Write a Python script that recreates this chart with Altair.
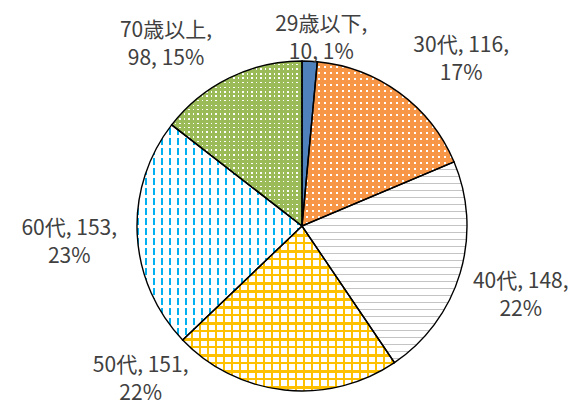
import math
import altair as alt
import pandas as pd

# ---- data ----
categories = ["29歳以下", "30代", "40代", "50代", "60代", "70歳以上"]
counts = [10, 116, 148, 151, 153, 98]
percents = [1, 17, 22, 22, 23, 15]

total = sum(counts)

# ---- styling ----
R = 165
FONT = "Noto Sans CJK JP"
TEXT_COLOR = "#404040"
base_colors = ["#4F81BD", "#FFFFFF", "#FFFFFF", "#FFFFFF", "#FFFFFF", "#FFFFFF"]
CLEAR = "rgba(255,255,255,0)"
# label nudges (dx, dy) from the mid-angle anchor at radius 200
label_nudge = {
    "29歳以下": (10, -1),
    "30代": (41, -19),
    "40代": (27, -1),
    "50代": (-140, -59),
    "60代": (-33, -7),
    "70歳以上": (-48, -15),
}


def label_text(c, n, p):
    if len(c) > 3:
        return f"{c},\n{n}, {p}%"
    return f"{c}, {n},\n{p}%"


df = pd.DataFrame({
    "cat": categories,
    "n": counts,
    "order": list(range(len(categories))),
    "label": [label_text(c, n, p) for c, n, p in zip(categories, counts, percents)],
})

# bounding boxes of slices (for gradient stripe spacing)
cum = [0]
for c in counts:
    cum.append(cum[-1] + c)


def bbox(i):
    t0 = cum[i] / total * 2 * math.pi
    t1 = cum[i + 1] / total * 2 * math.pi
    angs = [t0, t1] + [k * math.pi / 2 for k in range(5) if t0 < k * math.pi / 2 < t1]
    xs = [0.0] + [R * math.sin(t) for t in angs]
    ys = [0.0] + [-R * math.cos(t) for t in angs]
    return max(xs) - min(xs), max(ys) - min(ys)


def stripes(length, period, on, color, vertical, phase=0.0):
    stops = [{"offset": 0, "color": CLEAR}]
    pos = phase
    while pos < length:
        s = round(max(pos, 0) / length, 5)
        e = round(min(pos + on, length) / length, 5)
        stops += [
            {"offset": s, "color": CLEAR},
            {"offset": s, "color": color},
            {"offset": e, "color": color},
            {"offset": e, "color": CLEAR},
        ]
        pos += period
    stops.append({"offset": 1, "color": CLEAR})
    if vertical:
        return {"gradient": "linear", "x1": 0, "y1": 0, "x2": 1, "y2": 0, "stops": stops}
    return {"gradient": "linear", "x1": 0, "y1": 0, "x2": 0, "y2": 1, "stops": stops}


theta_scale = alt.Scale(domain=[0, total])


def arc_enc(ch):
    return ch.encode(
        theta=alt.Theta("start:Q", scale=theta_scale),
        theta2="end:Q",
    )


layers = []

# base slices
layers.append(
    arc_enc(alt.Chart().mark_arc(radius=R)).encode(
        color=alt.Color("cat:N", scale=alt.Scale(domain=categories, range=base_colors), legend=None)
    )
)

# pattern definitions: (category, [(period, on, color, vertical)])
patterns = {
    "30代": [(6, 4, "#F79646", True), (6, 4, "#F79646", False)],
    "40代": [(7, 1.5, "#C4C4C4", False)],
    "50代": [(8, 2.5, "#FFC000", True), (8, 2.5, "#FFC000", False)],
    "60代": [(8, 2.2, "#00B0F0", True), (10, 3.5, "#FFFFFF", False)],
    "70歳以上": [(4.5, 3, "#9BBB59", True), (4.5, 3, "#9BBB59", False)],
}

for i, cat in enumerate(categories):
    if cat not in patterns:
        continue
    w, h = bbox(i)
    for period, on, color, vertical in patterns[cat]:
        grad = stripes(w if vertical else h, period, on, color, vertical)
        layers.append(
            arc_enc(alt.Chart().mark_arc(radius=R, fill=grad)).transform_filter(
                alt.datum.cat == cat
            )
        )

# outlines
layers.append(
    arc_enc(
        alt.Chart().mark_arc(radius=R, fill="white", fillOpacity=0, stroke="black", strokeWidth=1.4)
    )
)

# labels
for cat in categories:
    dx, dy = label_nudge[cat]
    layers.append(
        alt.Chart()
        .mark_text(
            radius=200, dx=dx, dy=dy, lineBreak="\n", lineHeight=28,
            font=FONT, fontSize=21, color=TEXT_COLOR, align="center", baseline="middle",
        )
        .encode(theta=alt.Theta("mid:Q", scale=theta_scale), text="label:N")
        .transform_filter(alt.datum.cat == cat)
    )

chart = (
    alt.layer(*layers, data=df)
    .transform_window(end="sum(n)", sort=[alt.SortField("order")], frame=[None, 0])
    .transform_calculate(start="datum.end - datum.n", mid="datum.end - datum.n / 2")
    .properties(
        width=532,
        height=344,
        padding={"left": 28, "top": 46, "right": 0, "bottom": 8},
        autosize=alt.AutoSizeParams(type="none"),
        background="white",
    )
    .configure_view(stroke=None)
)

chart.save("out.html", embed_options={"renderer": "svg", "actions": False})
